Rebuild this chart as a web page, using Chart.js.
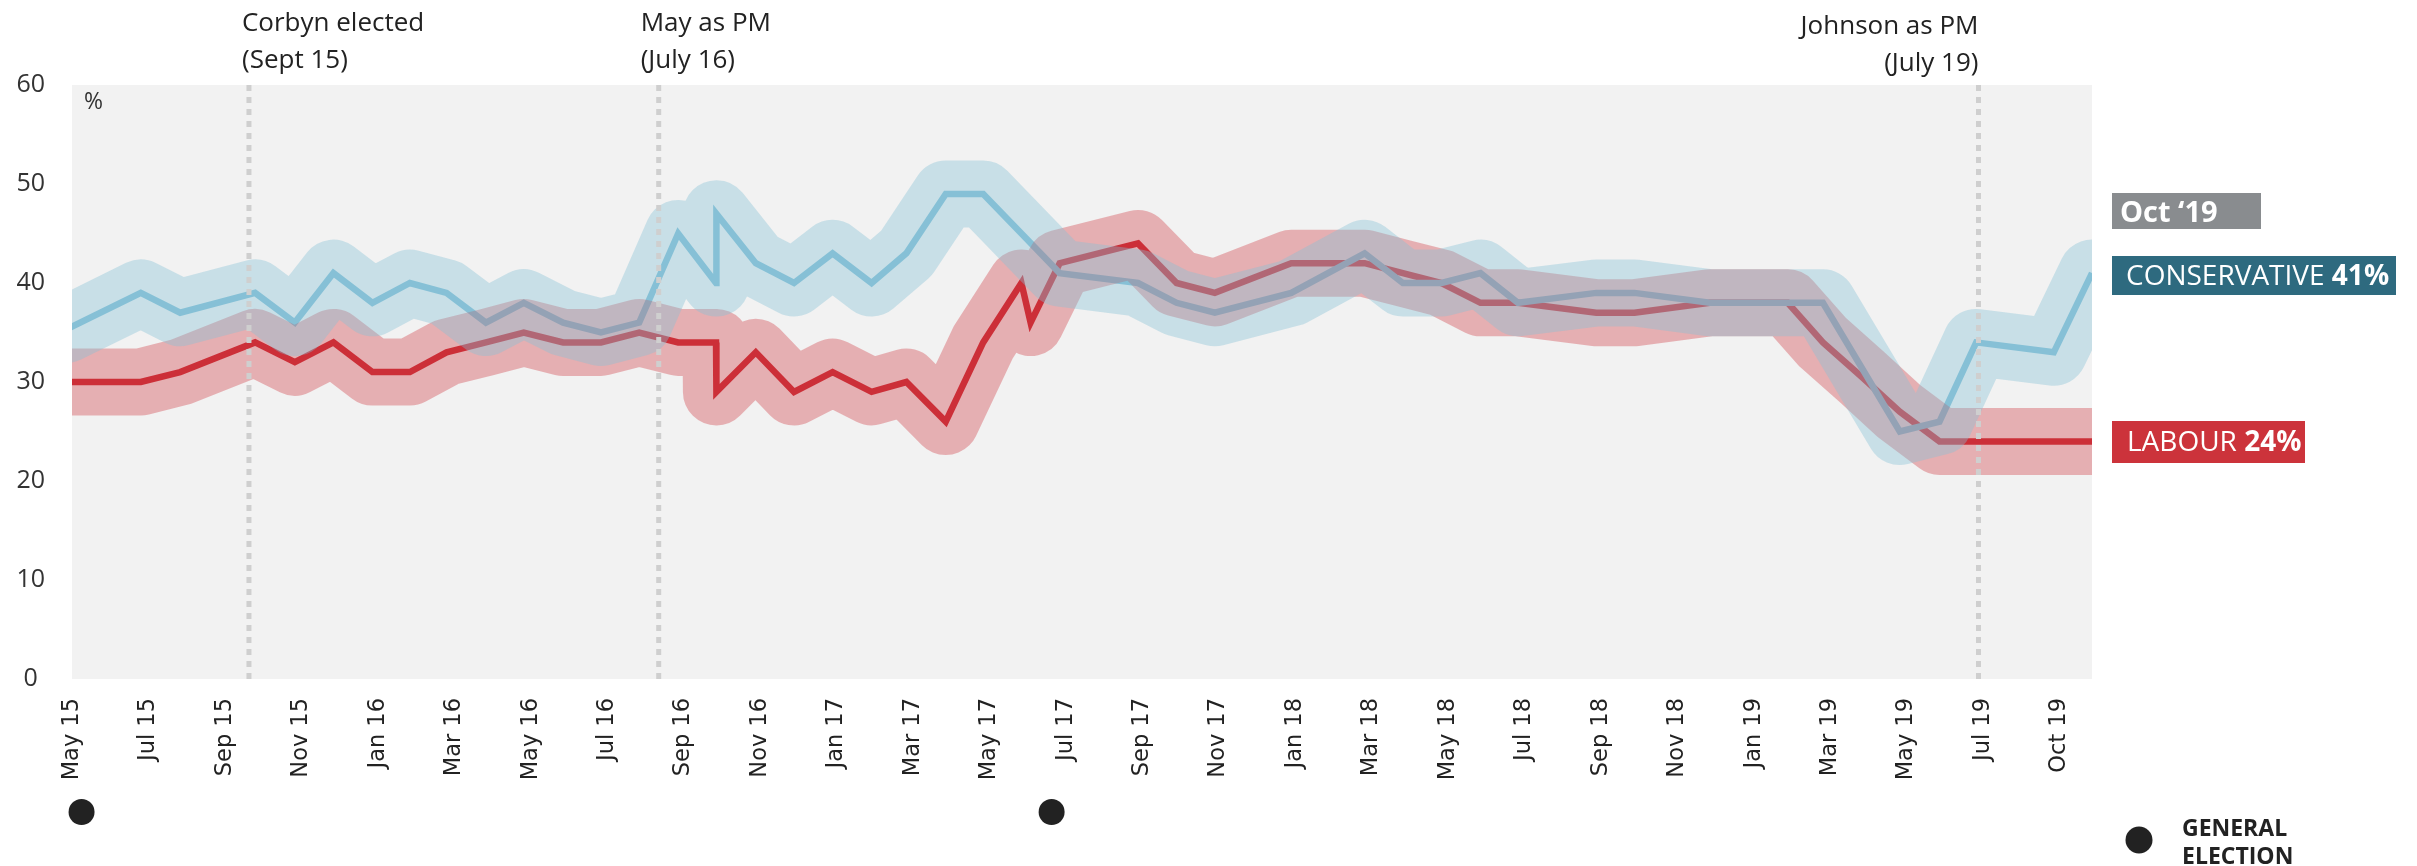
<!DOCTYPE html>
<html>
<head>
<meta charset="utf-8">
<script src="https://cdn.jsdelivr.net/npm/chart.js@4.4.1/dist/chart.umd.min.js"></script>
<style>
  html, body { margin: 0; padding: 0; background: #fff; }
  canvas { display: block; }
</style>
</head>
<body>
<canvas id="chart" width="2417" height="866"></canvas>
<script>
// months counted from May 2015 (0 = May 15)
const conMonths = [-0.15, 1.8, 2.83, 4.79, 5.83, 6.84, 7.86, 8.84, 9.8, 10.83, 11.82, 12.85, 13.84, 14.84, 15.86, 16.85, 16.86,
  17.89, 18.89, 19.9, 20.92, 21.83, 22.86, 23.84, 24.84, 25.84, 27.89, 28.9, 29.9, 31.9, 33.82, 34.82, 35.83, 36.85,
  37.83, 39.88, 40.88, 42.85, 45.81, 47.82, 48.86, 49.82, 51.85, 52.85];
const conShare = [35.3, 39, 37, 39, 36, 41, 38, 40, 39, 36, 38, 36, 35, 36, 45, 40, 47,
  42, 40, 43, 40, 43, 49, 49, 45, 41, 40, 38, 37, 39, 43, 40, 40, 41,
  38, 39, 39, 38, 38, 25, 26, 34, 33, 41];

const labMonths = [-0.9, -0.15, 1.8, 2.83, 4.79, 5.83, 6.84, 7.86, 8.84, 9.8, 10.83, 11.82, 12.85, 13.84, 14.84, 15.86, 16.85, 16.86,
  17.89, 18.89, 19.9, 20.92, 21.83, 22.86, 23.84, 24.84, 25.08, 25.84, 27.89, 28.9, 29.9, 31.9, 33.82, 34.82, 35.83, 36.85,
  37.83, 39.88, 40.88, 42.85, 44.89, 45.81, 46.83, 47.82, 48.86, 52.85];
const labShare = [37, 30, 30, 31, 34, 32, 34, 31, 31, 33, 34, 35, 34, 34, 35, 34, 34, 29,
  33, 29, 31, 29, 30, 26, 34, 40, 36, 42, 44, 40, 39, 42, 42, 41, 40, 38,
  38, 37, 37, 38, 38, 34, 30.5, 27, 24, 24];

const tickMonths = [0, 2, 4, 6, 8, 10, 12, 14, 16, 18, 20, 22, 24, 26, 28, 30, 32, 34, 36, 38, 40, 42, 44, 46, 48, 50, 52];
const tickLabels = ['May 15', 'Jul 15', 'Sep 15', 'Nov 15', 'Jan 16', 'Mar 16', 'May 16', 'Jul 16', 'Sep 16', 'Nov 16',
  'Jan 17', 'Mar 17', 'May 17', 'Jul 17', 'Sep 17', 'Nov 17', 'Jan 18', 'Mar 18', 'May 18', 'Jul 18', 'Sep 18', 'Nov 18',
  'Jan 19', 'Mar 19', 'May 19', 'Jul 19', 'Oct 19'];

const eventMonths = [4.63, 15.35, 49.88];
const eventText = [['Corbyn elected', '(Sept 15)'], ['May as PM', '(July 16)'], ['Johnson as PM', '(July 19)']];
const electionMonths = [0.25, 25.63];

const RED = '#cc3039';
const BLUE = '#86c0d6';
const TEXT = '#222';

const toPoints = (xs, ys) => xs.map((x, i) => ({ x: x, y: ys[i] }));

const decor = {
  id: 'decor',
  beforeDraw(chart) {
    const { ctx, chartArea: a } = chart;
    ctx.save();
    ctx.fillStyle = '#f2f2f2';
    ctx.fillRect(a.left, a.top, a.right - a.left, a.bottom - a.top);
    ctx.restore();
  },
  afterDatasetsDraw(chart) {
    const { ctx, chartArea: a, scales } = chart;
    const x = scales.x;
    ctx.save();
    // event markers
    ctx.strokeStyle = '#cfcfcf';
    ctx.lineWidth = 5;
    ctx.setLineDash([6, 6]);
    eventMonths.forEach((m) => {
      const px = x.getPixelForValue(m);
      ctx.beginPath();
      ctx.moveTo(px, a.top);
      ctx.lineTo(px, a.bottom);
      ctx.stroke();
    });
    ctx.setLineDash([]);

    ctx.fillStyle = TEXT;
    ctx.font = '26px "Open Sans"';
    // Corbyn / May: left aligned a little left of the line
    ctx.textAlign = 'left';
    ctx.fillText(eventText[0][0], x.getPixelForValue(eventMonths[0]) - 7, 31);
    ctx.fillText(eventText[0][1], x.getPixelForValue(eventMonths[0]) - 7, 68);
    ctx.fillText(eventText[1][0], x.getPixelForValue(eventMonths[1]) - 18, 31);
    ctx.fillText(eventText[1][1], x.getPixelForValue(eventMonths[1]) - 18, 68);
    ctx.textAlign = 'right';
    ctx.fillText(eventText[2][0], x.getPixelForValue(eventMonths[2]), 34);
    ctx.fillText(eventText[2][1], x.getPixelForValue(eventMonths[2]), 71);

    // % unit
    ctx.textAlign = 'left';
    ctx.font = '23px "Open Sans"';
    ctx.fillStyle = '#333';
    ctx.fillText('%', 84, 109);

    // general election dots
    ctx.fillStyle = '#222';
    electionMonths.forEach((m) => {
      ctx.beginPath();
      ctx.arc(x.getPixelForValue(m), 812, 13, 0, Math.PI * 2);
      ctx.fill();
    });
    ctx.beginPath();
    ctx.arc(2139, 840, 13.5, 0, Math.PI * 2);
    ctx.fill();
    ctx.font = 'bold 23px "Open Sans"';
    ctx.fillText('GENERAL', 2182, 836);
    ctx.fillText('ELECTION', 2182, 864);

    // right-hand labels
    const box = (y, h, w, color) => {
      ctx.fillStyle = color;
      ctx.fillRect(2112, y, w, h);
    };
    box(193, 36, 149, '#898c8f');
    box(256, 39, 284, '#2e6a7f');
    box(421, 42, 193, '#cc333b');

    ctx.fillStyle = '#fff';
    ctx.font = 'bold 29px "Open Sans"';
    ctx.fillText('Oct \u201819', 2120, 222);

    const twoPart = (a1, a2, left, base) => {
      ctx.font = '28px "Open Sans"';
      ctx.fillText(a1, left, base);
      const w = ctx.measureText(a1).width;
      ctx.font = 'bold 28px "Open Sans"';
      ctx.fillText(a2, left + w, base);
    };
    twoPart('CONSERVATIVE ', conShare[conShare.length - 1] + '%', 2126, 285);
    twoPart('LABOUR ', labShare[labShare.length - 1] + '%', 2127, 451);
    ctx.restore();
  }
};

new Chart(document.getElementById('chart'), {
  type: 'line',
  data: {
    datasets: [
      {
        label: 'Conservative band', data: toPoints(conMonths, conShare),
        borderColor: 'rgba(133,192,214,0.39)', borderWidth: 67,
        borderJoinStyle: 'round', borderCapStyle: 'round', order: 1
      },
      {
        label: 'Labour band', data: toPoints(labMonths, labShare),
        borderColor: 'rgba(204,48,57,0.34)', borderWidth: 67,
        borderJoinStyle: 'round', borderCapStyle: 'round', order: 2
      },
      {
        label: 'Conservative', data: toPoints(conMonths, conShare),
        borderColor: BLUE, borderWidth: 6.5, borderJoinStyle: 'miter', order: 3
      },
      {
        label: 'Labour', data: toPoints(labMonths, labShare),
        borderColor: RED, borderWidth: 6.5, borderJoinStyle: 'miter', order: 4
      }
    ]
  },
  options: {
    responsive: false,
    animation: false,
    devicePixelRatio: 1,
    clip: 0,
    elements: { point: { radius: 0, hoverRadius: 0 }, line: { tension: 0, fill: false } },
    datasets: { line: { clip: 0 } },
    layout: { padding: { left: 0, top: 85, right: 325, bottom: 0 } },
    plugins: { legend: { display: false }, tooltip: { enabled: false } },
    scales: {
      x: {
        type: 'linear', min: 0, max: 52.85,
        grid: { display: false, drawTicks: false }, border: { display: false },
        afterBuildTicks: (scale) => { scale.ticks = tickMonths.map((v) => ({ value: v })); },
        afterFit: (scale) => { scale.height = 187; },
        ticks: {
          autoSkip: false, minRotation: 90, maxRotation: 90, padding: 19,
          color: TEXT, font: { family: 'DejaVu Sans', size: 22.5 },
          callback: (v, i) => tickLabels[i]
        }
      },
      y: {
        min: 0, max: 60,
        grid: { display: false, drawTicks: false }, border: { display: false },
        afterFit: (scale) => { scale.width = 72; },
        ticks: {
          stepSize: 10, padding: 27, crossAlign: 'center',
          color: '#333', font: { family: 'Open Sans', size: 25 }
        }
      }
    }
  },
  plugins: [decor]
});
</script>
</body>
</html>
